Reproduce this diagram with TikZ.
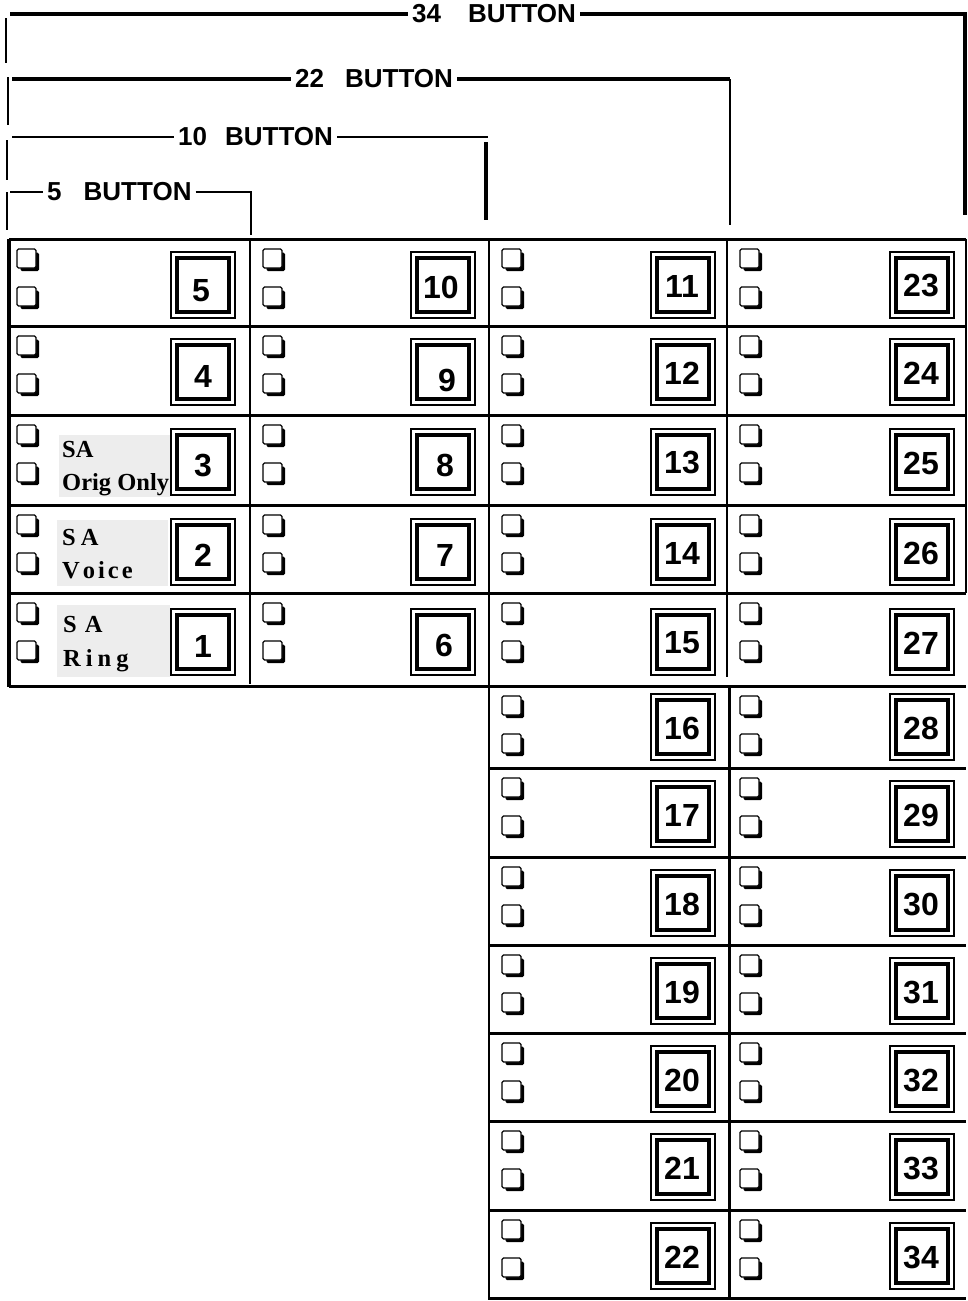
\documentclass[tikz,border=0pt]{standalone}
\usepackage{fontspec}
\setmainfont{Liberation Serif}
\setsansfont{Liberation Sans}
\newcommand{\ckbx}[2]{%
  \fill[rounded corners=1.5pt] ({#1+3.5},{#2+3.5}) rectangle ({#1+22},{#2+22});
  \filldraw[fill=white, line width=1.2pt, rounded corners=1.5pt] ({#1},{#2}) rectangle ({#1+19},{#2+19});}
\begin{document}
\begin{tikzpicture}[x=1pt,y=-1pt,
  gridthick/.style={line width=3pt},
  gridthin/.style={line width=1.5pt},
  brthick/.style={line width=3.5pt},
  brthin/.style={line width=2pt},
  brtick/.style={line width=2.5pt},
  brlabel/.style={font=\sffamily\bfseries\fontsize{26}{26}\selectfont, inner xsep=4pt, inner ysep=0pt, anchor=west},
  btnout/.style={draw, line width=2.5pt, minimum width=64pt, minimum height=66pt, inner sep=0pt},
  btnin/.style={line width=4pt},
  digit/.style={font=\sffamily\bfseries\fontsize{32}{32}\selectfont, inner sep=0pt},
  salabel/.style={font=\rmfamily\bfseries\fontsize{24.5}{24.5}\selectfont, inner sep=0pt, anchor=base west},
  graybg/.style={fill=black!7},
]
\useasboundingbox (0,0) rectangle (967,1301);

% ---------- brackets ----------
\node[brlabel] (t34) at (408,14) {34\hspace{27pt}BUTTON};
\coordinate (l34) at (10,14);
\coordinate (r34) at (965,14);
\coordinate (r34e) at (965,215);
\draw[brthick] (l34) -- (t34.west);
\draw[brthick] (t34.east) -- (r34) -- (r34e);
\draw[brtick] (6,18) -- (6,63);

\node[brlabel] (t22) at (291,79) {22\hspace{21pt}BUTTON};
\coordinate (l22) at (12,79);
\coordinate (r22) at (730,79);
\coordinate (r22e) at (730,225);
\draw[line width=4pt] (l22) -- (t22.west);
\draw[line width=4pt] (t22.east) -- (r22);
\draw[line width=2.5pt] (r22) -- (r22e);
\draw[brtick] (8,77) -- (8,125);

\node[brlabel] (t10) at (174,137) {10\hspace{18pt}BUTTON};
\coordinate (l10) at (12,137);
\coordinate (r10) at (488,137);
\draw[brthin] (l10) -- (t10.west);
\draw[brthin] (t10.east) -- (r10);
\draw[line width=4pt] (486,142) -- (486,220);
\draw[brtick] (7,140) -- (7,180);

\node[brlabel] (t5) at (43,192) {5\hspace{22pt}BUTTON};
\coordinate (l5) at (10,192);
\coordinate (r5) at (251,192);
\coordinate (r5e) at (251,235);
\draw[brthin] (l5) -- (t5.west);
\draw[brthin] (t5.east) -- (r5) -- (r5e);
\draw[brtick] (7,192) -- (7,230);

% ---------- grid ----------
\draw[gridthick] (9,239) -- (966,239);
\draw[line width=4pt] (9,239) -- (9,687);
\foreach \y in {326,415,505,593}
  \draw[gridthick] (11,\y) -- (966,\y);
\draw[gridthick] (9,686) -- (966,686);
\draw[gridthin] (250,241) -- (250,684);
\draw[line width=2.5pt] (489,239) -- (489,1299.5);
\draw[line width=2pt] (727,241) -- (727,677);
\draw[gridthick] (729,686) -- (729,1298);
\foreach \y in {768,857,945,1033,1121,1210}
  \draw[gridthick] (489,\y) -- (966,\y);
\draw[gridthick] (488,1298) -- (966,1298);
\draw[gridthin] (966,239) -- (966,593);

% ---------- checkboxes ----------
\foreach \cx in {17,263,502,740}
  \foreach \ry in {239,326,415,505,593}{
    \ckbx{\cx}{\ry+10}
    \ckbx{\cx}{\ry+48}
  }
\foreach \cx in {502,740}
  \foreach \ry in {686,768,857,945,1033,1121,1210}{
    \ckbx{\cx}{\ry+10}
    \ckbx{\cx}{\ry+48}
  }

% ---------- SA labels ----------
\fill[graybg] (59,435) rectangle (170,497);
\node[salabel] (sa3a) at (62,457) {SA};
\node[salabel] (sa3b) at (62,490) {Orig Only};
\fill[graybg] (57,520) rectangle (168,586);
\node[salabel] (sa2a) at (62,545) {S\kern5pt A};
\node[salabel] (sa2b) at (62,578) {V\kern3pt o\kern3pt i\kern3pt c\kern3pt e};
\fill[graybg] (57,605) rectangle (170,677);
\node[salabel] (sa1a) at (63,632) {S\kern8pt A};
\node[salabel] (sa1b) at (63,666) {R\kern5pt i\kern5pt n\kern5pt g};

% ---------- buttons ----------
\foreach \n/\cx/\cy/\dx/\dy in {
  5/203/285/-2/6, 4/203/372/0/4, 3/203/462/0/4, 2/203/552/0/3, 1/203/642/0/4,
  10/443/285/-2/2, 9/443/372/4/8, 8/443/462/2/3, 7/443/552/2/3, 6/443/642/1/3,
  11/683/285/-1/1, 12/683/372/-1/1, 13/683/462/-1/1, 14/683/552/-1/1, 15/683/642/-1/1,
  16/683/727/-1/1, 17/683/814/-1/1, 18/683/903/-1/1, 19/683/991/-1/1, 20/683/1079/-1/1,
  21/683/1167/-1/1, 22/683/1256/-1/1,
  23/922/285/-1/1, 24/922/372/-1/1, 25/922/462/-1/1, 26/922/552/-1/1, 27/922/642/-1/1,
  28/922/727/-1/1, 29/922/814/-1/1, 30/922/903/-1/1, 31/922/991/-1/1, 32/922/1079/-1/1,
  33/922/1167/-1/1, 34/922/1256/-1/1}{
  \node[btnout] (b\n) at (\cx,\cy) {};
  \draw[btnin] ([shift={(7.5,7.5)}]b\n.north west) rectangle ([shift={(-7.5,-7.5)}]b\n.south east);
  \node[digit] (d\n) at ([shift={(\dx,\dy)}]b\n.center) {\n};
}
\end{tikzpicture}
\end{document}
